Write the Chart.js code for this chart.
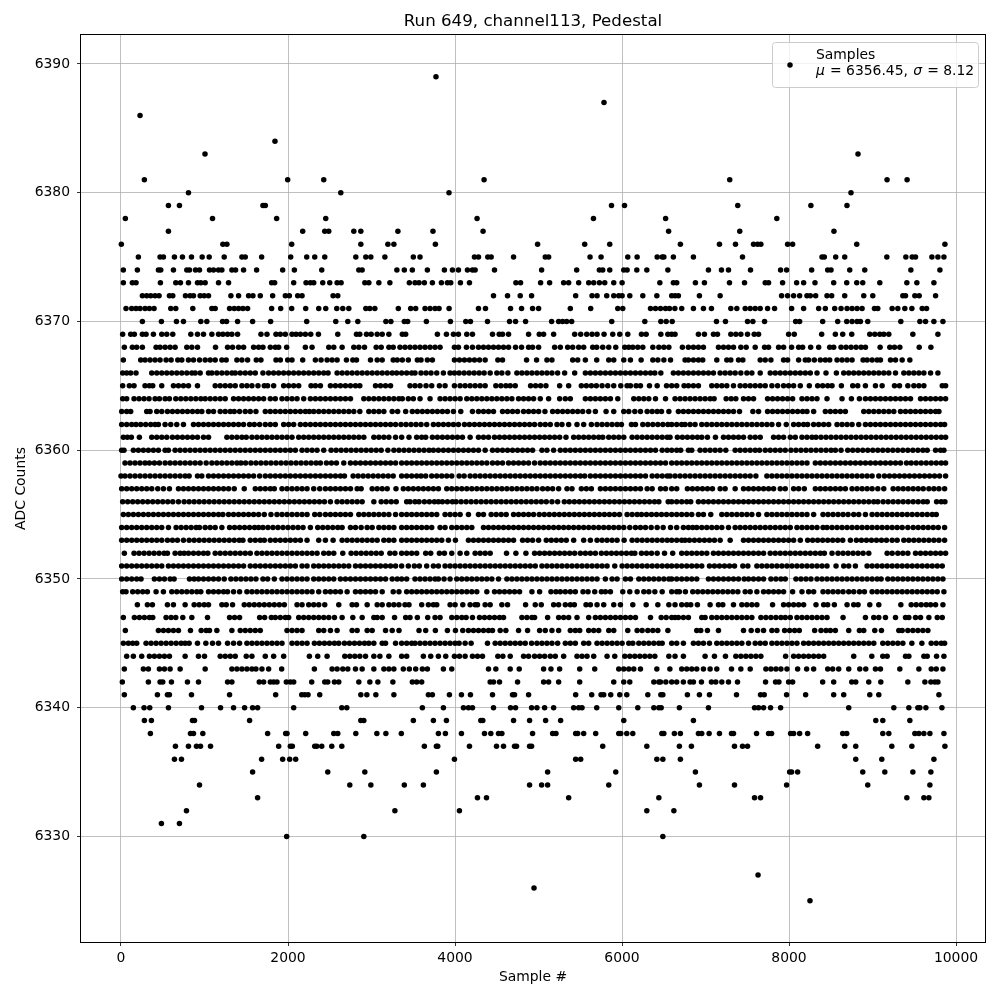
<html>

<head>
    <title>Run 649, channel113, Pedestal</title>
    <script src="https://cdn.jsdelivr.net/npm/chart.js"></script>
    <style>
        body { margin: 0; background: #fff; }
        #box { width: 1000px; height: 1000px; }
    </style>
</head>

<body>
<div id="box"><canvas id="chart" width="1000" height="1000"></canvas></div>

<script>
    // sample numbers, one list per ADC level
    const s6389 = [3772];
    const s6387 = [5784];
    const s6386 = [228];
    const s6384 = [1844];
    const s6383 = [1006, 8826];
    const s6381 = [280, 1996, 2428, 4348, 7290, 9174, 9414];
    const s6380 = [808, 2632, 3928, 8742];
    const s6379 = [568, 700, 1700, 1728, 5874, 6030, 7386, 8262, 8694];
    const s6378 = [52, 1096, 1864, 2452, 4264, 5658, 6522, 7854];
    const s6377 = [568, 2176, 2440, 2488, 2788, 2872, 3316, 3736, 4336, 6558, 7410, 8538];
    const s6376 = [4, 1220, 1268, 2044, 2872, 3196, 3268, 3765, 4989, 5553, 5853, 6699, 7167, 7359, 7575, 7623, 7663, 7983, 8043, 8811, 9867];
    const s6375 = [208, 468, 508, 640, 736, 844, 972, 1056, 1236, 1448, 1488, 1684, 2032, 2224, 2320, 2440, 2812, 2932, 2992, 3160, 3501, 3581, 4233, 4281, 4393, 4433, 4701, 5081, 5121, 5617, 5749, 6069, 6181, 6421, 6481, 6501, 6615, 6855, 7443, 8395, 8423, 8559, 8667, 9171, 9399, 9475, 9515, 9711, 9783, 9855];
    const s6374 = [28, 196, 448, 476, 628, 788, 820, 892, 940, 1060, 1108, 1168, 1208, 1328, 1372, 1468, 1624, 1936, 2076, 2404, 2848, 2888, 3304, 3393, 3489, 3669, 3873, 3969, 4041, 4149, 4209, 4241, 4473, 5037, 5457, 5729, 5769, 5853, 6021, 6061, 6177, 6297, 6549, 7035, 7191, 7275, 7539, 7899, 7971, 8271, 8463, 8503, 8727, 8907, 9459, 9807];
    const s6373 = [28, 136, 180, 472, 656, 712, 808, 916, 956, 1008, 1168, 1288, 1804, 1840, 2068, 2216, 2268, 2308, 2416, 2500, 2588, 2636, 2920, 2968, 3088, 3220, 3453, 3521, 3569, 3633, 3729, 3837, 3909, 3949, 4065, 4173, 4729, 4785, 5025, 5133, 5301, 5361, 5481, 5601, 5661, 5729, 5793, 5901, 6001, 6453, 6615, 6655, 6879, 6987, 7287, 7467, 7715, 7755, 7923, 8091, 8175, 8311, 8535, 8691, 8811, 8883, 9087, 9411, 9531, 9735];
    const s6372 = [256, 308, 356, 408, 456, 580, 620, 772, 828, 868, 948, 996, 1048, 1316, 1408, 1528, 1580, 1668, 1816, 1968, 2016, 2116, 2168, 2540, 2596, 4461, 4629, 4781, 4917, 5445, 5641, 5701, 5817, 5901, 5961, 6001, 6093, 6249, 6417, 6595, 6635, 6675, 6927, 7175, 7911, 7983, 8055, 8127, 8215, 8255, 8319, 8455, 8511, 8667, 8895, 9003, 9363, 9395, 9507, 9559, 9755];
    const s6371 = [60, 128, 180, 228, 288, 340, 396, 596, 656, 860, 1088, 1128, 1300, 1356, 1408, 1460, 1516, 1804, 1912, 2044, 2212, 2368, 2452, 2584, 2656, 2728, 2932, 2980, 3040, 3321, 3469, 3529, 3641, 3701, 3761, 3809, 3929, 4281, 4365, 4665, 4797, 4929, 5001, 5381, 5625, 5949, 6009, 6341, 6401, 6461, 6521, 6569, 6633, 6715, 6855, 6975, 7071, 7303, 7375, 7475, 7535, 7595, 7655, 7743, 7827, 8031, 8175, 8355, 8435, 8547, 8623, 8695, 8755, 8815, 8875, 9023, 9063, 9235, 9303, 9387, 9471, 9595, 9647];
    const s6370 = [256, 484, 664, 748, 956, 1028, 1216, 1264, 1396, 1576, 1792, 2224, 2572, 2716, 2836, 3172, 3232, 3393, 3433, 3657, 3945, 4129, 4185, 4389, 4653, 4725, 4845, 5157, 5241, 5289, 5337, 5397, 5877, 6273, 6465, 6529, 6601, 7131, 7239, 7503, 7567, 7707, 8079, 8127, 8403, 8583, 8691, 8755, 8815, 8855, 8943, 9339, 9567, 9635, 9735, 9843];
    const s6369 = [20, 116, 160, 256, 300, 388, 488, 548, 620, 836, 916, 988, 1088, 1168, 1220, 1276, 1328, 1396, 1676, 1748, 1856, 1908, 1968, 2048, 2096, 2148, 2208, 2272, 2364, 2596, 2820, 2860, 2940, 2996, 3068, 3128, 3208, 3369, 3409, 3789, 3897, 3981, 4041, 4141, 4209, 4449, 4529, 4569, 4641, 4881, 5009, 5061, 5181, 5433, 5505, 5577, 5641, 5701, 5785, 5889, 5973, 6069, 6233, 6289, 6465, 6549, 6595, 6635, 6915, 6987, 7095, 7143, 7303, 7363, 7423, 7503, 7583, 7635, 7995, 8063, 8391, 8555, 8643, 8751, 8967, 9027, 9087, 9135, 9195, 9483, 9783];
    const s6368 = [40, 136, 188, 256, 420, 468, 528, 588, 648, 788, 848, 916, 1132, 1276, 1336, 1408, 1468, 1588, 1648, 1700, 1788, 1848, 1888, 1984, 2208, 2288, 2488, 2548, 2648, 2788, 2848, 2916, 3056, 3116, 3208, 3260, 3341, 3401, 3461, 3521, 3581, 3641, 3701, 3761, 3821, 3993, 4041, 4137, 4209, 4281, 4341, 4401, 4461, 4521, 4581, 4641, 4725, 4797, 4881, 4929, 5001, 5193, 5261, 5349, 5409, 5481, 5541, 5649, 5697, 5769, 5841, 5925, 6033, 6081, 6129, 6189, 6249, 6369, 6441, 6501, 6561, 6723, 6795, 6855, 6915, 6975, 7155, 7215, 7275, 7335, 7423, 7487, 7595, 7707, 7755, 7875, 7935, 8031, 8115, 8163, 8259, 8355, 8487, 8535, 8623, 8683, 8743, 8803, 8863, 8915, 9091, 9207, 9263, 9327, 9559, 9699];
    const s6367 = [28, 236, 288, 348, 408, 468, 540, 600, 680, 728, 808, 868, 940, 1008, 1068, 1128, 1208, 1260, 1388, 1448, 1516, 1620, 1676, 1856, 1908, 1996, 2048, 2176, 2328, 2396, 2468, 2528, 2588, 2700, 2776, 2820, 2988, 3068, 3128, 3260, 3308, 3369, 3441, 3549, 3593, 3669, 3729, 3993, 4053, 4113, 4173, 4233, 4293, 4361, 4513, 4569, 4857, 4977, 5101, 5161, 5409, 5469, 5561, 5697, 5841, 5901, 6021, 6101, 6229, 6369, 6429, 6501, 6581, 6755, 6795, 6855, 6915, 6967, 7135, 7255, 7303, 7395, 7447, 7655, 7715, 7783, 7935, 7983, 8115, 8195, 8235, 8303, 8375, 8435, 8487, 8575, 8635, 8695, 8755, 8887, 8935, 8995, 9055, 9095, 9215, 9275, 9355, 9447];
    const s6366 = [20, 68, 116, 180, 368, 428, 488, 548, 608, 668, 728, 788, 848, 888, 948, 1048, 1088, 1148, 1208, 1268, 1328, 1368, 1428, 1488, 1548, 1608, 1700, 1768, 1828, 1888, 1948, 2008, 2068, 2128, 2188, 2248, 2308, 2368, 2428, 2480, 2588, 2648, 2708, 2768, 2828, 2888, 2948, 3008, 3068, 3128, 3188, 3248, 3301, 3361, 3421, 3481, 3521, 3593, 3653, 3713, 3781, 3861, 3941, 3993, 4049, 4109, 4169, 4229, 4289, 4349, 4421, 4501, 4561, 4633, 4741, 4801, 4861, 4921, 4981, 5041, 5101, 5161, 5229, 5313, 5433, 5561, 5621, 5681, 5741, 5801, 5861, 5921, 5981, 6041, 6101, 6161, 6221, 6281, 6341, 6393, 6465, 6615, 6675, 6735, 6795, 6855, 6915, 6975, 7035, 7095, 7175, 7235, 7295, 7355, 7423, 7495, 7555, 7655, 7775, 7835, 7895, 7955, 8015, 8075, 8135, 8195, 8255, 8335, 8443, 8567, 8655, 8715, 8775, 8835, 8895, 8955, 9015, 9075, 9135, 9195, 9275, 9375, 9435, 9495, 9555, 9615, 9695, 9783];
    const s6365 = [20, 100, 156, 288, 340, 380, 488, 628, 688, 748, 808, 916, 1128, 1188, 1248, 1308, 1368, 1448, 1508, 1568, 1640, 1716, 1756, 1828, 1948, 2008, 2068, 2128, 2276, 2328, 2388, 2508, 2568, 2628, 2688, 2748, 2808, 2860, 3048, 3108, 3168, 3228, 3461, 3521, 3581, 3653, 3721, 3813, 3881, 3993, 4061, 4121, 4181, 4241, 4301, 4361, 4489, 4549, 4609, 4661, 4721, 4905, 4965, 5025, 5089, 5253, 5361, 5513, 5573, 5633, 5693, 5761, 5829, 5901, 5985, 6061, 6101, 6169, 6221, 6329, 6421, 6533, 6595, 6655, 6743, 6795, 6855, 6915, 7075, 7135, 7195, 7255, 7335, 7415, 7475, 7535, 7595, 7655, 7715, 7795, 7863, 7935, 7995, 8055, 8135, 8243, 8343, 8403, 8463, 8515, 8627, 8763, 8823, 8915, 9035, 9115, 9263, 9323, 9423, 9495, 9555, 9615, 9835, 9875];
    const s6364 = [20, 68, 156, 216, 276, 336, 408, 460, 528, 580, 656, 716, 776, 836, 896, 956, 1008, 1068, 1128, 1188, 1248, 1348, 1408, 1468, 1528, 1588, 1648, 1708, 1788, 1848, 1928, 1988, 2048, 2108, 2188, 2268, 2328, 2388, 2448, 2508, 2568, 2628, 2688, 2748, 2908, 2968, 3028, 3088, 3148, 3208, 3268, 3328, 3369, 3441, 3501, 3581, 3701, 3821, 3881, 3941, 4001, 4061, 4141, 4201, 4261, 4321, 4381, 4441, 4501, 4561, 4621, 4681, 4761, 4821, 4881, 4941, 5021, 5121, 5253, 5321, 5381, 5561, 5621, 5681, 5741, 5801, 5861, 5949, 6141, 6201, 6261, 6321, 6401, 6521, 6635, 6695, 6755, 6815, 6875, 6935, 6995, 7055, 7103, 7247, 7307, 7363, 7455, 7515, 7575, 7743, 7803, 7863, 7923, 7983, 8043, 8155, 8215, 8275, 8335, 8455, 8635, 8747, 8843, 8915, 8975, 9035, 9095, 9155, 9215, 9275, 9335, 9395, 9455, 9575, 9635, 9695, 9755, 9815, 9875];
    const s6363 = [8, 68, 116, 308, 348, 428, 488, 556, 616, 676, 736, 796, 856, 916, 968, 1048, 1108, 1188, 1248, 1308, 1356, 1420, 1488, 1548, 1616, 1728, 1788, 1848, 1908, 1968, 2028, 2088, 2148, 2208, 2256, 2308, 2368, 2428, 2488, 2548, 2608, 2668, 2728, 2788, 2860, 2968, 3028, 3088, 3148, 3248, 3313, 3409, 3489, 3549, 3609, 3669, 3729, 3789, 3849, 3909, 3981, 4069, 4209, 4281, 4341, 4401, 4461, 4569, 4629, 4689, 4749, 4821, 4881, 4941, 5001, 5077, 5169, 5229, 5289, 5349, 5409, 5469, 5529, 5601, 5681, 5809, 5901, 6021, 6081, 6153, 6221, 6301, 6361, 6421, 6473, 6561, 6675, 6735, 6795, 6855, 6915, 6975, 7035, 7095, 7155, 7215, 7275, 7335, 7407, 7567, 7635, 7743, 7803, 7863, 7923, 7983, 8043, 8103, 8163, 8215, 8295, 8435, 8495, 8555, 8615, 8675, 8895, 8955, 9015, 9075, 9135, 9195, 9255, 9335, 9395, 9455, 9515, 9575, 9635, 9695, 9755, 9795];
    const s6362 = [8, 68, 128, 180, 236, 296, 356, 408, 448, 528, 596, 668, 748, 868, 928, 988, 1048, 1108, 1168, 1228, 1288, 1348, 1408, 1468, 1540, 1596, 1660, 1728, 1788, 1848, 1948, 2008, 2068, 2148, 2208, 2268, 2328, 2388, 2448, 2508, 2568, 2628, 2688, 2748, 2808, 2868, 2928, 2988, 3048, 3108, 3168, 3228, 3288, 3353, 3413, 3473, 3533, 3593, 3661, 3741, 3801, 3861, 3921, 3981, 4041, 4113, 4173, 4233, 4293, 4353, 4413, 4473, 4533, 4593, 4653, 4713, 4773, 4833, 4893, 4953, 5021, 5081, 5141, 5221, 5281, 5361, 5461, 5541, 5633, 5701, 5761, 5821, 5881, 5941, 5993, 6113, 6161, 6249, 6309, 6369, 6429, 6489, 6549, 6595, 6655, 6715, 6755, 6815, 6875, 6955, 7015, 7075, 7135, 7195, 7255, 7315, 7375, 7435, 7495, 7555, 7615, 7675, 7735, 7795, 7875, 7967, 8055, 8115, 8175, 8223, 8295, 8355, 8415, 8475, 8575, 8635, 8695, 8755, 8835, 8915, 8975, 9035, 9095, 9155, 9215, 9275, 9335, 9395, 9455, 9515, 9575, 9635, 9695, 9755, 9815, 9863];
    const s6361 = [28, 76, 124, 220, 368, 428, 488, 548, 616, 676, 736, 796, 856, 916, 988, 1048, 1268, 1328, 1388, 1448, 1500, 1568, 1628, 1688, 1748, 1808, 1868, 1928, 1988, 2048, 2128, 2188, 2248, 2308, 2368, 2428, 2488, 2548, 2608, 2668, 2728, 2788, 2848, 2908, 3028, 3088, 3148, 3208, 3288, 3361, 3449, 3541, 3601, 3649, 3729, 3789, 3849, 3909, 3969, 4029, 4089, 4181, 4281, 4341, 4401, 4473, 4533, 4593, 4653, 4713, 4773, 4833, 4893, 4953, 5013, 5073, 5133, 5193, 5253, 5329, 5421, 5481, 5541, 5601, 5661, 5721, 5769, 5841, 5901, 5961, 6021, 6121, 6181, 6241, 6301, 6361, 6421, 6481, 6541, 6575, 6663, 6723, 6783, 6843, 6903, 6955, 7023, 7119, 7215, 7275, 7335, 7395, 7455, 7535, 7595, 7655, 7815, 7875, 7935, 8015, 8075, 8155, 8215, 8275, 8323, 8383, 8443, 8503, 8563, 8623, 8683, 8743, 8803, 8863, 8923, 8983, 9043, 9103, 9163, 9223, 9283, 9343, 9403, 9463, 9523, 9583, 9643, 9703, 9763, 9823, 9875];
    const s6360 = [8, 36, 148, 208, 268, 328, 388, 448, 528, 568, 648, 708, 768, 828, 888, 948, 1008, 1068, 1128, 1188, 1248, 1308, 1368, 1428, 1488, 1548, 1608, 1668, 1728, 1788, 1848, 1908, 1968, 2028, 2088, 2168, 2228, 2288, 2348, 2428, 2516, 2576, 2636, 2696, 2756, 2816, 2876, 2936, 2996, 3056, 3116, 3196, 3268, 3329, 3389, 3449, 3509, 3569, 3629, 3689, 3741, 3801, 3861, 3921, 3981, 4041, 4101, 4161, 4221, 4281, 4361, 4449, 4509, 4569, 4629, 4689, 4749, 4809, 4869, 4929, 5041, 5101, 5181, 5261, 5321, 5381, 5441, 5501, 5561, 5621, 5681, 5741, 5801, 5861, 5921, 5981, 6041, 6101, 6161, 6221, 6281, 6341, 6401, 6481, 6541, 6595, 6655, 6703, 6795, 6835, 6935, 6995, 7055, 7115, 7175, 7243, 7355, 7415, 7475, 7535, 7595, 7647, 7715, 7775, 7835, 7895, 7955, 8023, 8083, 8143, 8203, 8263, 8323, 8383, 8443, 8503, 8555, 8623, 8703, 8763, 8823, 8883, 8943, 9003, 9063, 9123, 9183, 9243, 9303, 9363, 9423, 9483, 9543, 9603, 9655, 9755, 9815, 9855];
    const s6359 = [48, 108, 168, 228, 288, 340, 400, 460, 528, 588, 648, 708, 768, 828, 888, 948, 1020, 1088, 1148, 1208, 1268, 1328, 1388, 1436, 1492, 1556, 1616, 1676, 1736, 1796, 1856, 1916, 1976, 2036, 2096, 2156, 2216, 2276, 2336, 2388, 2460, 2520, 2580, 2668, 2748, 2808, 2868, 2928, 2988, 3048, 3108, 3168, 3228, 3288, 3361, 3421, 3481, 3541, 3601, 3661, 3721, 3781, 3841, 3901, 3961, 4021, 4081, 4141, 4201, 4261, 4321, 4381, 4449, 4509, 4569, 4641, 4701, 4761, 4821, 4881, 4953, 5021, 5081, 5141, 5201, 5261, 5321, 5381, 5441, 5501, 5561, 5621, 5681, 5741, 5801, 5861, 5921, 5981, 6041, 6101, 6161, 6221, 6281, 6341, 6401, 6461, 6521, 6595, 6655, 6715, 6775, 6835, 6895, 6955, 7015, 7075, 7135, 7195, 7255, 7315, 7375, 7435, 7495, 7555, 7615, 7675, 7735, 7795, 7855, 7915, 7975, 8035, 8095, 8155, 8215, 8315, 8375, 8435, 8495, 8555, 8615, 8675, 8735, 8795, 8855, 8915, 8975, 9035, 9095, 9155, 9215, 9275, 9335, 9407, 9463, 9523, 9583, 9643, 9703, 9763, 9823, 9875];
    const s6358 = [0, 48, 108, 168, 228, 288, 348, 408, 468, 528, 588, 648, 708, 768, 816, 916, 968, 1048, 1108, 1168, 1228, 1288, 1348, 1408, 1468, 1528, 1588, 1660, 1728, 1788, 1848, 1908, 1968, 2028, 2088, 2148, 2208, 2268, 2328, 2388, 2448, 2508, 2568, 2628, 2676, 2780, 2840, 2900, 2960, 3020, 3080, 3140, 3200, 3260, 3361, 3421, 3481, 3541, 3593, 3649, 3721, 3781, 3841, 3901, 3961, 4049, 4109, 4181, 4241, 4301, 4361, 4421, 4481, 4541, 4601, 4661, 4721, 4781, 4841, 4901, 4961, 5021, 5081, 5141, 5201, 5261, 5321, 5381, 5441, 5501, 5553, 5621, 5681, 5741, 5801, 5861, 5921, 5981, 6041, 6101, 6161, 6221, 6281, 6361, 6421, 6481, 6541, 6575, 6635, 6695, 6755, 6815, 6875, 6935, 6995, 7055, 7115, 7175, 7235, 7295, 7355, 7415, 7475, 7535, 7603, 7735, 7795, 7855, 7915, 7975, 8035, 8095, 8155, 8215, 8275, 8335, 8395, 8455, 8515, 8575, 8635, 8695, 8755, 8815, 8875, 8935, 8995, 9075, 9143, 9203, 9263, 9323, 9383, 9443, 9503, 9563, 9623, 9683, 9743, 9803, 9875];
    const s6357 = [8, 68, 128, 188, 248, 308, 368, 440, 508, 580, 688, 748, 808, 868, 928, 988, 1048, 1108, 1168, 1228, 1288, 1356, 1476, 1608, 1668, 1728, 1788, 1836, 1928, 1988, 2048, 2108, 2168, 2228, 2308, 2380, 2448, 2508, 2568, 2628, 2688, 2748, 2828, 2876, 3008, 3068, 3128, 3188, 3293, 3381, 3441, 3501, 3561, 3621, 3681, 3741, 3801, 3901, 3961, 4021, 4081, 4141, 4201, 4261, 4321, 4381, 4441, 4501, 4561, 4621, 4681, 4741, 4801, 4861, 4921, 4981, 5049, 5109, 5169, 5241, 5341, 5401, 5513, 5573, 5633, 5741, 5801, 5861, 5921, 5981, 6041, 6101, 6161, 6221, 6301, 6361, 6461, 6521, 6595, 6655, 6783, 6843, 6903, 6963, 7023, 7083, 7175, 7235, 7355, 7455, 7515, 7575, 7635, 7695, 7755, 7815, 7895, 7955, 8055, 8115, 8183, 8315, 8375, 8435, 8495, 8555, 8615, 8675, 8755, 8815, 8875, 8935, 8995, 9063, 9135, 9247, 9307, 9367, 9427, 9487, 9547, 9607, 9675, 9735, 9795, 9863];
    const s6356 = [20, 80, 140, 200, 260, 320, 380, 440, 500, 560, 620, 688, 756, 816, 876, 936, 996, 1056, 1116, 1176, 1236, 1296, 1356, 1416, 1476, 1536, 1596, 1656, 1716, 1776, 1836, 1896, 1956, 2016, 2076, 2136, 2196, 2256, 2316, 2376, 2436, 2508, 2588, 2648, 2708, 2768, 2828, 2888, 3028, 3116, 3176, 3236, 3296, 3421, 3461, 3521, 3569, 3633, 3693, 3753, 3801, 3849, 3909, 3969, 4013, 4073, 4133, 4193, 4253, 4313, 4373, 4433, 4493, 4553, 4613, 4673, 4733, 4793, 4853, 4913, 4973, 5033, 5093, 5161, 5229, 5309, 5369, 5429, 5489, 5549, 5609, 5669, 5729, 5789, 5849, 5909, 5969, 6029, 6089, 6149, 6209, 6269, 6329, 6389, 6441, 6553, 6595, 6655, 6715, 6775, 6823, 6915, 6975, 7035, 7095, 7155, 7215, 7275, 7335, 7395, 7455, 7515, 7575, 7635, 7695, 7755, 7815, 7875, 7935, 7995, 8055, 8115, 8175, 8235, 8295, 8355, 8415, 8475, 8535, 8595, 8655, 8715, 8775, 8835, 8895, 8955, 9015, 9063, 9127, 9187, 9247, 9307, 9367, 9427, 9487, 9547, 9607, 9655, 9767, 9823, 9867];
    const s6355 = [28, 88, 148, 208, 268, 328, 388, 448, 508, 568, 628, 688, 748, 808, 868, 928, 988, 1048, 1108, 1168, 1220, 1288, 1348, 1408, 1468, 1528, 1588, 1648, 1716, 1796, 1868, 1928, 1988, 2048, 2108, 2168, 2228, 2320, 2380, 2448, 2508, 2568, 2628, 2688, 2748, 2848, 2908, 2968, 3028, 3088, 3148, 3208, 3288, 3361, 3421, 3481, 3541, 3601, 3661, 3721, 3781, 3881, 3941, 4001, 4061, 4161, 4281, 4341, 4433, 4493, 4553, 4613, 4701, 4761, 4821, 4881, 4941, 5009, 5069, 5129, 5189, 5249, 5309, 5369, 5429, 5489, 5549, 5609, 5669, 5729, 5789, 5849, 5909, 5969, 6061, 6121, 6181, 6233, 6293, 6353, 6413, 6473, 6533, 6595, 6655, 6715, 6775, 6835, 6915, 6975, 7063, 7195, 7255, 7315, 7375, 7435, 7495, 7555, 7635, 7735, 7795, 7855, 7915, 7975, 8035, 8095, 8155, 8215, 8295, 8407, 8467, 8527, 8587, 8647, 8707, 8775, 8835, 8915, 8995, 9055, 9115, 9175, 9235, 9295, 9355, 9415, 9475, 9535, 9595, 9655, 9715, 9763];
    const s6354 = [8, 68, 128, 188, 248, 308, 368, 428, 488, 568, 660, 720, 780, 840, 900, 940, 1008, 1068, 1128, 1208, 1300, 1360, 1420, 1480, 1540, 1600, 1648, 1700, 1760, 1820, 1880, 1940, 2000, 2060, 2120, 2180, 2268, 2356, 2416, 2476, 2536, 2596, 2648, 2748, 2808, 2876, 2948, 3008, 3088, 3148, 3208, 3268, 3361, 3421, 3481, 3541, 3601, 3661, 3721, 3821, 3881, 3961, 4021, 4081, 4141, 4201, 4341, 4401, 4461, 4521, 4581, 4641, 4701, 4761, 4821, 4881, 4941, 5001, 5061, 5121, 5181, 5241, 5301, 5361, 5421, 5481, 5541, 5601, 5661, 5721, 5781, 5841, 5901, 5961, 6021, 6093, 6161, 6221, 6281, 6349, 6421, 6493, 6581, 6655, 6735, 6795, 6847, 6895, 6955, 7015, 7075, 7135, 7195, 7275, 7355, 7415, 7475, 7535, 7595, 7655, 7715, 7775, 7835, 7895, 7955, 8015, 8095, 8155, 8215, 8275, 8335, 8407, 8455, 8515, 8575, 8635, 8695, 8755, 8815, 8875, 8935, 8995, 9055, 9115, 9175, 9235, 9295, 9355, 9423, 9487, 9547, 9607, 9667, 9727, 9787, 9863];
    const s6353 = [8, 68, 128, 188, 248, 308, 368, 428, 488, 556, 616, 676, 748, 816, 876, 936, 996, 1056, 1116, 1176, 1236, 1296, 1356, 1416, 1460, 1548, 1608, 1668, 1716, 1788, 1848, 1908, 1968, 2028, 2088, 2148, 2228, 2368, 2448, 2540, 2648, 2708, 2768, 2828, 2888, 2948, 3008, 3068, 3148, 3208, 3268, 3361, 3421, 3481, 3541, 3601, 3661, 3721, 3781, 3841, 3921, 4005, 4161, 4221, 4281, 4341, 4401, 4461, 4521, 4581, 4641, 4701, 4809, 4869, 4929, 5001, 5093, 5153, 5213, 5273, 5333, 5421, 5541, 5621, 5701, 5761, 5821, 5881, 5941, 6025, 6121, 6181, 6241, 6301, 6361, 6421, 6481, 6541, 6595, 6655, 6715, 6755, 6807, 6867, 6927, 6987, 7047, 7107, 7175, 7295, 7455, 7515, 7575, 7635, 7695, 7755, 7815, 7875, 7935, 7995, 8055, 8135, 8223, 8283, 8343, 8403, 8463, 8523, 8583, 8643, 8735, 8807, 8867, 8927, 8987, 9047, 9107, 9167, 9235, 9295, 9375, 9435, 9495, 9555, 9615, 9675, 9735, 9795, 9863];
    const s6352 = [40, 156, 216, 276, 336, 396, 456, 516, 556, 648, 708, 756, 808, 868, 928, 988, 1040, 1128, 1188, 1248, 1308, 1368, 1428, 1488, 1548, 1628, 1688, 1748, 1808, 1868, 1928, 1988, 2048, 2108, 2168, 2228, 2288, 2348, 2428, 2488, 2548, 2656, 2756, 2816, 2876, 2936, 2996, 3056, 3116, 3220, 3280, 3361, 3421, 3481, 3541, 3649, 3709, 3813, 3873, 3961, 4061, 4141, 4241, 4301, 4361, 4421, 4617, 4729, 4849, 4953, 5013, 5073, 5133, 5193, 5253, 5313, 5373, 5433, 5501, 5561, 5621, 5681, 5753, 5813, 5873, 5933, 5993, 6053, 6113, 6153, 6233, 6293, 6353, 6421, 6509, 6607, 6715, 6775, 6835, 6895, 6955, 7015, 7095, 7155, 7215, 7275, 7335, 7395, 7455, 7515, 7575, 7635, 7695, 7775, 7835, 7895, 7955, 8015, 8075, 8135, 8195, 8255, 8315, 8375, 8423, 8515, 8587, 8647, 8707, 8767, 8827, 8887, 8955, 9175, 9235, 9303, 9363, 9423, 9515, 9575, 9635, 9695, 9755, 9815, 9875];
    const s6351 = [8, 68, 128, 188, 248, 308, 368, 428, 488, 568, 628, 688, 748, 808, 868, 928, 988, 1048, 1108, 1168, 1228, 1288, 1348, 1408, 1468, 1548, 1608, 1668, 1728, 1788, 1848, 1908, 1968, 2028, 2088, 2168, 2228, 2308, 2368, 2428, 2488, 2548, 2608, 2668, 2728, 2808, 2868, 2928, 2988, 3048, 3108, 3168, 3228, 3288, 3361, 3441, 3513, 3573, 3661, 3741, 3801, 3881, 3941, 4001, 4061, 4121, 4181, 4241, 4301, 4361, 4421, 4481, 4541, 4601, 4661, 4721, 4781, 4841, 4901, 4961, 5041, 5101, 5161, 5221, 5281, 5341, 5401, 5461, 5521, 5581, 5641, 5701, 5761, 5821, 5913, 6001, 6061, 6121, 6181, 6241, 6301, 6361, 6421, 6481, 6541, 6595, 6655, 6715, 6775, 6835, 6895, 6955, 7047, 7107, 7167, 7227, 7287, 7347, 7447, 7507, 7615, 7675, 7735, 7795, 7855, 7915, 7975, 8035, 8095, 8155, 8215, 8275, 8335, 8395, 8455, 8563, 8655, 8715, 8795, 8935, 8995, 9055, 9115, 9175, 9235, 9295, 9355, 9415, 9475, 9535, 9595, 9655, 9715, 9775, 9835];
    const s6350 = [8, 68, 128, 188, 240, 400, 460, 520, 588, 636, 820, 876, 928, 988, 1048, 1108, 1168, 1236, 1316, 1376, 1436, 1496, 1556, 1616, 1700, 1756, 1836, 1928, 1988, 2048, 2108, 2168, 2228, 2308, 2368, 2428, 2488, 2548, 2628, 2688, 2748, 2808, 2868, 2928, 2988, 3048, 3108, 3168, 3248, 3308, 3361, 3421, 3521, 3581, 3641, 3701, 3761, 3801, 3869, 3941, 4021, 4081, 4141, 4201, 4261, 4321, 4381, 4441, 4521, 4621, 4681, 4741, 4801, 4861, 4921, 4981, 5041, 5101, 5161, 5221, 5281, 5341, 5401, 5461, 5521, 5581, 5641, 5701, 5801, 5881, 5941, 6041, 6101, 6201, 6261, 6321, 6381, 6441, 6501, 6561, 6595, 6655, 6715, 6775, 6835, 6895, 7035, 7095, 7155, 7215, 7275, 7335, 7395, 7463, 7515, 7575, 7635, 7695, 7783, 7843, 7903, 7955, 8083, 8143, 8203, 8263, 8335, 8395, 8455, 8515, 8575, 8635, 8695, 8755, 8815, 8875, 8935, 8995, 9055, 9103, 9183, 9243, 9303, 9363, 9423, 9483, 9543, 9603, 9663, 9723, 9783, 9843];
    const s6349 = [20, 60, 140, 200, 260, 316, 420, 508, 608, 668, 728, 788, 848, 908, 956, 1048, 1108, 1168, 1228, 1276, 1348, 1420, 1508, 1568, 1628, 1688, 1748, 1808, 1868, 1928, 1988, 2048, 2108, 2168, 2228, 2288, 2368, 2448, 2508, 2568, 2628, 2708, 2808, 2868, 2928, 2988, 3048, 3128, 3260, 3329, 3421, 3481, 3541, 3601, 3661, 3721, 3781, 3841, 3901, 3961, 4021, 4081, 4141, 4201, 4261, 4381, 4473, 4533, 4593, 4653, 4713, 4773, 4921, 5013, 5149, 5209, 5261, 5321, 5381, 5441, 5533, 5593, 5673, 5753, 5801, 5861, 6009, 6093, 6181, 6261, 6321, 6393, 6481, 6595, 6655, 6687, 6759, 6847, 6907, 6967, 7027, 7087, 7147, 7207, 7267, 7327, 7387, 7475, 7535, 7615, 7695, 7755, 7815, 7875, 7935, 8043, 8155, 8235, 8295, 8407, 8467, 8527, 8587, 8647, 8715, 8775, 8843, 8903, 8995, 9055, 9115, 9175, 9235, 9295, 9355, 9415, 9475, 9535, 9595, 9655, 9715, 9775, 9855];
    const s6348 = [196, 316, 376, 556, 628, 768, 876, 936, 996, 1048, 1208, 1260, 1336, 1476, 1536, 1596, 1656, 1716, 1776, 1836, 1896, 1956, 2108, 2168, 2248, 2308, 2368, 2440, 2608, 2768, 2820, 2948, 3068, 3128, 3208, 3268, 3328, 3401, 3449, 3601, 3681, 3741, 3781, 3941, 4001, 4093, 4181, 4241, 4269, 4361, 4421, 4561, 4629, 4845, 4961, 5033, 5181, 5241, 5321, 5381, 5429, 5569, 5621, 5701, 5781, 5901, 5981, 6129, 6289, 6429, 6561, 6635, 6715, 6775, 6823, 6903, 7055, 7155, 7207, 7335, 7435, 7495, 7555, 7615, 7803, 7935, 7995, 8055, 8115, 8175, 8323, 8415, 8463, 8543, 8695, 8775, 8827, 8967, 9075, 9339, 9463, 9523, 9583, 9643, 9695, 9755, 9843];
    const s6347 = [28, 160, 220, 280, 340, 380, 540, 600, 656, 740, 848, 1036, 1300, 1360, 1420, 1660, 1720, 1800, 1848, 1908, 1968, 2008, 2128, 2188, 2248, 2308, 2368, 2428, 2488, 2556, 2648, 2776, 2888, 3028, 3068, 3128, 3276, 3409, 3461, 3549, 3673, 3761, 3821, 3961, 4021, 4081, 4133, 4209, 4293, 4353, 4413, 4473, 4533, 4581, 4801, 4861, 4921, 4953, 5109, 5241, 5301, 5361, 5461, 5601, 5681, 5741, 5801, 5861, 5921, 5981, 6041, 6101, 6161, 6341, 6469, 6529, 6595, 6635, 6675, 6735, 6795, 6955, 6995, 7075, 7135, 7195, 7255, 7315, 7375, 7435, 7495, 7555, 7663, 7723, 7783, 7843, 7903, 7955, 8015, 8095, 8155, 8215, 8275, 8335, 8395, 8455, 8647, 8915, 9015, 9075, 9155, 9275, 9395, 9435, 9515, 9575, 9675, 9775, 9835];
    const s6346 = [52, 448, 508, 568, 628, 688, 832, 960, 1020, 1060, 1148, 1328, 1428, 1488, 1548, 1608, 1668, 1988, 2048, 2108, 2168, 2368, 2428, 2508, 2588, 2768, 2828, 2948, 3008, 3168, 3248, 3329, 3569, 3649, 3765, 3909, 4005, 4093, 4161, 4221, 4281, 4341, 4401, 4449, 4541, 4609, 4761, 4869, 5013, 5081, 5161, 5241, 5381, 5441, 5493, 5601, 5661, 5721, 5841, 5901, 6069, 6181, 6241, 6309, 6369, 6429, 6549, 6895, 6943, 7023, 7155, 7455, 7547, 7623, 7695, 7795, 7855, 7947, 8007, 8067, 8123, 8307, 8383, 8443, 8495, 8555, 8715, 8843, 8895, 9027, 9107, 9315, 9355, 9423, 9483, 9543, 9603, 9663];
    const s6345 = [28, 88, 140, 188, 300, 360, 420, 480, 540, 600, 660, 720, 768, 816, 916, 1016, 1096, 1168, 1276, 1348, 1420, 1508, 1568, 1628, 1688, 1748, 1808, 1868, 1928, 2048, 2108, 2168, 2228, 2316, 2376, 2436, 2496, 2556, 2608, 2676, 2736, 2796, 2856, 2916, 2968, 3028, 3128, 3168, 3288, 3361, 3421, 3481, 3521, 3581, 3641, 3701, 3761, 3821, 3881, 3941, 4001, 4049, 4121, 4193, 4389, 4481, 4541, 4601, 4661, 4721, 4781, 4841, 4917, 4981, 5041, 5101, 5161, 5229, 5321, 5381, 5441, 5541, 5601, 5701, 5761, 5821, 5881, 5941, 6001, 6081, 6129, 6201, 6261, 6321, 6381, 6441, 6481, 6595, 6655, 6735, 6855, 6915, 6975, 7047, 7135, 7195, 7255, 7315, 7375, 7435, 7515, 7595, 7655, 7715, 7795, 7855, 7915, 7975, 8035, 8095, 8175, 8235, 8295, 8355, 8415, 8475, 8535, 8595, 8655, 8715, 8775, 8835, 8895, 8955, 9015, 9123, 9183, 9243, 9303, 9363, 9471, 9591, 9703, 9763, 9823, 9863];
    const s6344 = [68, 148, 248, 340, 400, 460, 520, 580, 768, 928, 1000, 1188, 1248, 1308, 1368, 1500, 1568, 1728, 1828, 1948, 2256, 2356, 2468, 2680, 2740, 2800, 2860, 2928, 3028, 3100, 3208, 3361, 3421, 3621, 3709, 3801, 3889, 3993, 4053, 4121, 4209, 4269, 4329, 4513, 4573, 4661, 4821, 4881, 4953, 5013, 5073, 5141, 5201, 5301, 5461, 5521, 5581, 5661, 5821, 5913, 6033, 6093, 6153, 6213, 6273, 6333, 6393, 6561, 6635, 6735, 6995, 7107, 7239, 7363, 7423, 7483, 7543, 7603, 7663, 7959, 8055, 8115, 8175, 8235, 8295, 8355, 8415, 8775, 8991, 9123, 9175, 9395, 9435, 9615, 9655, 9767, 9855];
    const s6343 = [40, 268, 328, 460, 520, 588, 708, 1008, 1328, 1388, 1448, 1508, 1568, 1616, 1688, 1768, 1924, 2316, 2528, 2588, 2656, 2716, 2808, 2888, 3028, 3148, 3208, 3268, 3381, 3453, 3529, 3609, 3669, 3861, 3961, 4401, 4489, 4661, 4769, 5061, 5149, 5253, 5493, 5673, 5961, 6021, 6081, 6141, 6221, 6417, 6573, 6715, 6775, 6835, 6895, 6975, 7055, 7135, 7311, 7423, 7535, 7723, 7783, 7843, 7903, 7975, 8103, 8211, 8295, 8463, 8523, 8595, 8715, 8847, 8919, 9035, 9095, 9327, 9555, 9703, 9763, 9843];
    const s6342 = [16, 328, 468, 500, 604, 796, 928, 1276, 1328, 1656, 1708, 1788, 1828, 1868, 1980, 2028, 2068, 2284, 2440, 2476, 2556, 2608, 2848, 2980, 3076, 3256, 3489, 3541, 3601, 4421, 4461, 4533, 4749, 5061, 5121, 5241, 5493, 5901, 6021, 6093, 6381, 6441, 6461, 6525, 6595, 6655, 6735, 6815, 6855, 6951, 7071, 7123, 7195, 7275, 7383, 7719, 7839, 7879, 7995, 8043, 8403, 8535, 8751, 8799, 8955, 9099, 9423, 9627, 9699, 9747, 9783];
    const s6341 = [40, 436, 556, 580, 844, 1300, 1852, 2164, 2200, 2240, 2380, 2872, 2944, 3052, 3268, 3681, 3729, 3933, 4077, 4185, 4449, 4689, 4713, 4881, 5445, 5637, 5749, 5781, 5865, 5973, 6057, 6309, 6465, 6489, 6783, 6927, 7047, 7371, 7659, 7703, 7971, 8199, 8535, 8655, 8967, 9075, 9795];
    const s6340 = [148, 276, 344, 568, 964, 1192, 1348, 1480, 1576, 1636, 2068, 2644, 2704, 3609, 3861, 4101, 4161, 4209, 4461, 4665, 4725, 4917, 4981, 5073, 5181, 5421, 5481, 5521, 5697, 5961, 6189, 6381, 6441, 6469, 6687, 7035, 7587, 7635, 7695, 7779, 7899, 8715, 9255, 9435, 9543, 9567, 9639, 9831];
    const s6339 = [280, 364, 856, 880, 1540, 2872, 2908, 3501, 3741, 3897, 4309, 4333, 4701, 4893, 5085, 5265, 6021, 6855, 9039, 9123, 9447];
    const s6338 = [352, 832, 868, 980, 1756, 1972, 1988, 2212, 2548, 2596, 2812, 3064, 3172, 3357, 3801, 3885, 4077, 4353, 4429, 4521, 4561, 4929, 5169, 5209, 5445, 5469, 5541, 5685, 5961, 5985, 6057, 6129, 6477, 6501, 6627, 6699, 6915, 6955, 7043, 7167, 7311, 7335, 7611, 7755, 7791, 8019, 8055, 8127, 8223, 8643, 8691, 9123, 9195, 9507, 9555, 9615, 9687, 9855];
    const s6337 = [652, 808, 904, 952, 1072, 1888, 2028, 2052, 2320, 2344, 2404, 2524, 2644, 3633, 3777, 3793, 4173, 4497, 4581, 4713, 4737, 4893, 4917, 5769, 6297, 6687, 6831, 7347, 7443, 7503, 8343, 8667, 8799, 9231, 9471, 9867];
    const s6336 = [640, 724, 1684, 1936, 2020, 2092, 3993, 5445, 5505, 6417, 6489, 6699, 8799, 9111, 9735];
    const s6335 = [1576, 2476, 2920, 3777, 5109, 5925, 6879, 8007, 8031, 8103, 8883, 9147, 9483, 9699];
    const s6334 = [940, 2740, 2992, 3393, 3621, 4893, 5037, 5109, 5841, 6927, 7347, 7971, 8943, 9687];
    const s6333 = [1636, 4269, 4377, 5361, 6441, 7587, 7659, 9411, 9615, 9675];
    const s6332 = [784, 3280, 4053, 6297, 6621];
    const s6331 = [484, 700];
    const s6330 = [1984, 2908, 6489];
    const s6327 = [7629];
    const s6326 = [4946];
    const s6325 = [8251];

    const levels = [6389, 6387, 6386, 6384, 6383, 6381, 6380, 6379, 6378, 6377, 6376, 6375, 6374, 6373, 6372, 6371, 6370, 6369, 6368, 6367, 6366, 6365, 6364, 6363, 6362, 6361, 6360, 6359, 6358, 6357, 6356, 6355, 6354, 6353, 6352, 6351, 6350, 6349, 6348, 6347, 6346, 6345, 6344, 6343, 6342, 6341, 6340, 6339, 6338, 6337, 6336, 6335, 6334, 6333, 6332, 6331, 6330, 6327, 6326, 6325];
    const rows = [s6389, s6387, s6386, s6384, s6383, s6381, s6380, s6379, s6378, s6377, s6376, s6375, s6374, s6373, s6372, s6371, s6370, s6369, s6368, s6367, s6366, s6365, s6364, s6363, s6362, s6361, s6360, s6359, s6358, s6357, s6356, s6355, s6354, s6353, s6352, s6351, s6350, s6349, s6348, s6347, s6346, s6345, s6344, s6343, s6342, s6341, s6340, s6339, s6338, s6337, s6336, s6335, s6334, s6333, s6332, s6331, s6330, s6327, s6326, s6325];

    const font = 'DejaVu Sans';

    // legend has italic mu and sigma, so it is drawn by hand
    const legendBox = {
        id: 'legendBox',
        afterDraw(chart) {
            const c = chart.ctx;
            const a = chart.chartArea;

            // all four spines
            c.save();
            c.strokeStyle = '#000';
            c.lineWidth = 1;
            c.strokeRect(a.left - 0.5, a.top - 0.5, a.right - a.left + 1, a.bottom - a.top + 1);

            c.fillStyle = 'rgba(255,255,255,0.8)';
            c.strokeStyle = '#ccc';
            c.beginPath();
            c.roundRect(772.5, 42.5, 206, 45, 3);
            c.fill();
            c.stroke();

            c.fillStyle = '#000';
            c.beginPath();
            c.arc(790, 65, 2.75, 0, Math.PI * 2);
            c.fill();

            c.textBaseline = 'alphabetic';
            c.textAlign = 'left';
            c.font = `13.9px "${font}"`;
            c.fillText('Samples', 816, 59);
            let x = 816;
            [['μ', true], [' = 6356.45, ', false], ['σ', true], [' = 8.12', false]].forEach(([t, it]) => {
                c.font = `${it ? 'italic ' : ''}13.9px "${font}"`;
                c.fillText(t, x, 75);
                x += c.measureText(t).width + 0.8;
            });
            c.restore();
        }
    };

    const ctx = document.getElementById('chart').getContext('2d');

    new Chart(ctx, {
        type: 'scatter',
        data: {
            datasets: [{
                label: 'Samples',
                data: levels.flatMap((y, i) => rows[i].map(x => ({x: x, y: y}))),
                backgroundColor: '#000',
                borderWidth: 0,
                pointRadius: 2.75,
                pointHoverRadius: 2.75
            }]
        },
        options: {
            responsive: false,
            animation: false,
            layout: {padding: {right: 15}},
            plugins: {
                legend: {display: false},
                tooltip: {enabled: false},
                title: {
                    display: true,
                    fullSize: false,
                    text: 'Run 649, channel113, Pedestal',
                    color: '#000',
                    font: {family: font, size: 16.67, weight: 'normal', lineHeight: 1.2},
                    padding: {top: 12, bottom: 3}
                }
            },
            scales: {
                x: {
                    type: 'linear',
                    min: -479,
                    max: 10347,
                    afterFit: s => { s.height = 58; },
                    afterBuildTicks: s => { s.ticks = [0, 2000, 4000, 6000, 8000, 10000].map(v => ({value: v})); },
                    grid: {color: '#b0b0b0', lineWidth: 0.8, tickColor: '#000', tickLength: 4},
                    border: {display: false},
                    ticks: {color: '#000', font: {family: font, size: 13.9}, maxRotation: 0, padding: 4, callback: v => String(v)},
                    title: {display: true, text: 'Sample #', color: '#000', font: {family: font, size: 13.9}, padding: 14}
                },
                y: {
                    type: 'linear',
                    min: 6321.8,
                    max: 6392.25,
                    afterFit: s => { s.width = 81; },
                    afterBuildTicks: s => { s.ticks = [6330, 6340, 6350, 6360, 6370, 6380, 6390].map(v => ({value: v})); },
                    grid: {color: '#b0b0b0', lineWidth: 0.8, tickColor: '#000', tickLength: 4},
                    border: {display: false},
                    ticks: {color: '#000', font: {family: font, size: 13.9}, padding: 7, callback: v => String(v)},
                    title: {display: true, text: 'ADC Counts', color: '#000', font: {family: font, size: 13.9}, padding: 12.7}
                }
            }
        },
        plugins: [legendBox]
    });
</script>
</body>
</html>
